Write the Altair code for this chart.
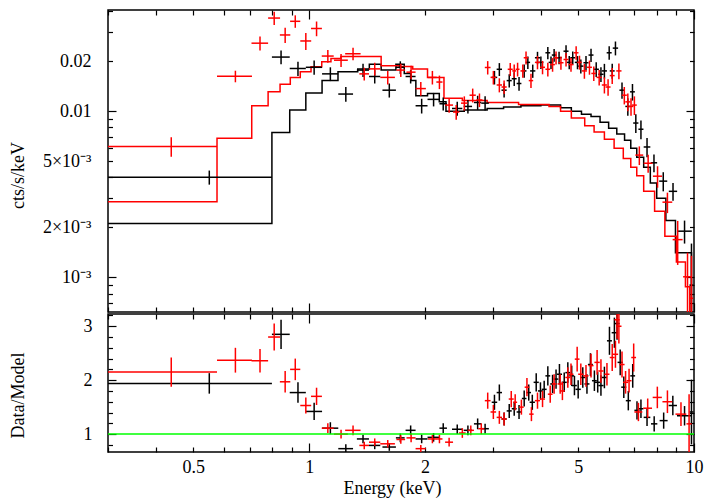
import altair as alt
import pandas as pd

FONT = "Liberation Serif"
FS = 18

X_DOMAIN = [0.3, 10.0]
TOP_Y_DOMAIN = [6.2e-4, 0.0407]
RATIO_Y_DOMAIN = [0.668, 3.227]

# ---------------- axis ticks and labels ----------------
X_LABEL_VALUES = [0.5, 1, 2, 5, 10]
X_LABEL_TEXT = ["0.5", "1", "2", "5", "10"]
X_MAJOR_TICKS = [1, 10]
X_MINOR_TICKS = [0.3, 0.4, 0.5, 0.6, 0.7, 0.8, 0.9, 2, 3, 4, 5, 6, 7, 8, 9]
TOP_Y_LABEL_VALUES = [0.001, 0.002, 0.005, 0.01, 0.02]
TOP_Y_LABEL_TEXT = ["10⁻³", "2×10⁻³", "5×10⁻³", "0.01", "0.02"]
TOP_Y_MAJOR_TICKS = [0.001, 0.01]
TOP_Y_MINOR_TICKS = [0.0007, 0.0008, 0.0009, 0.002, 0.003, 0.004, 0.005, 0.006,
                     0.007, 0.008, 0.009, 0.02, 0.03, 0.04]
RATIO_Y_LABEL_VALUES = [1, 2, 3]
RATIO_Y_LABEL_TEXT = ["1", "2", "3"]
RATIO_Y_MAJOR_TICKS = [1, 2, 3]
RATIO_Y_MINOR_TICKS = [0.8, 1.2, 1.4, 1.6, 1.8, 2.2, 2.4, 2.6, 2.8, 3.2]

# ---------------- folded models (bin edges, values) ----------------
BLACK_MODEL_EDGES = [0.30, 0.80, 0.89, 0.98, 1.08, 1.188, 1.337, 1.433, 1.538, 1.68,
                     1.766, 1.838, 1.893, 2.03, 2.178, 2.267, 2.529, 2.9, 3.2, 3.55,
                     4.0, 4.5, 4.8, 5.1, 5.4, 5.7, 6.0, 6.3, 6.6, 6.85,
                     7.1, 7.4, 7.7, 8.0, 8.45, 8.95, 9.85, 10.0]
BLACK_MODEL_VALUES = [0.00211, 0.00746, 0.0102, 0.0129, 0.01535, 0.0173, 0.0180, 0.0192, 0.0177, 0.0192,
                      0.0169, 0.0153, 0.0124, 0.0128, 0.0114, 0.0100, 0.0102, 0.0104, 0.0106, 0.0108,
                      0.0109, 0.0105, 0.0100, 0.0096, 0.0093, 0.0086, 0.0079, 0.0073, 0.0067, 0.0060,
                      0.0053, 0.0046, 0.0037, 0.0030, 0.0022, 0.00141, 0.0005]
RED_MODEL_EDGES = [0.30, 0.576, 0.709, 0.782, 0.840, 0.893, 0.948, 1.011, 1.078, 1.139,
                   1.209, 1.538, 1.715, 1.858, 2.03, 2.24, 2.5, 2.9, 3.5, 4.2,
                   4.5, 4.8, 5.2, 5.5, 5.85, 6.2, 6.55, 6.85, 7.1, 7.4,
                   7.9, 8.4, 9.0, 9.5, 9.75, 10.0]
RED_MODEL_VALUES = [0.00286, 0.00689, 0.0108, 0.01309, 0.01453, 0.01596, 0.0173, 0.01853, 0.0199, 0.0208,
                    0.0214, 0.0188, 0.0186, 0.0180, 0.0160, 0.0120, 0.0116, 0.0113, 0.0110, 0.0107,
                    0.0100, 0.0091, 0.0082, 0.0075, 0.0068, 0.0060, 0.0052, 0.0046, 0.0041, 0.0033,
                    0.0025, 0.00177, 0.00124, 0.00088, 0.0005]

# ---------------- spectrum data: energy, half width, rate, error ----------------
BLACK_E = [0.55, 0.845, 0.935, 1.03, 1.135, 1.245, 1.38, 1.48, 1.615, 1.725,
           1.835, 1.96, 2.105, 2.23, 2.425, 2.585, 2.74, 2.865, 3.03, 3.12,
           3.21, 3.31, 3.41, 3.51, 3.62, 3.70, 3.81, 3.92, 4.00, 4.17,
           4.25, 4.33, 4.46, 4.65, 4.74, 4.84, 4.98, 5.08, 5.24, 5.40,
           5.57, 5.73, 5.85, 6.02, 6.13, 6.25, 6.50, 6.73, 6.92, 7.06,
           7.28, 7.55, 7.87, 8.32, 8.82, 9.45, 9.85]
BLACK_DE = [0.25, 0.045, 0.045, 0.05, 0.055, 0.055, 0.05, 0.05, 0.065, 0.045,
            0.055, 0.07, 0.075, 0.05, 0.075, 0.065, 0.06, 0.065, 0.05, 0.05,
            0.05, 0.05, 0.05, 0.05, 0.05, 0.05, 0.06, 0.06, 0.06, 0.06,
            0.06, 0.06, 0.07, 0.07, 0.07, 0.07, 0.08, 0.08, 0.08, 0.08,
            0.09, 0.09, 0.09, 0.09, 0.09, 0.10, 0.10, 0.10, 0.10, 0.11,
            0.11, 0.15, 0.15, 0.20, 0.22, 0.42, 0.12]
BLACK_RATE = [0.00401, 0.0212, 0.0181, 0.0184, 0.0168, 0.0127, 0.0177, 0.0162, 0.0134, 0.0184,
              0.0162, 0.0108, 0.0118, 0.0111, 0.0104, 0.0107, 0.0113, 0.0112, 0.0160, 0.0179,
              0.0134, 0.0153, 0.0157, 0.0147, 0.0175, 0.0197, 0.0175, 0.0210, 0.0197, 0.0225,
              0.0197, 0.0218, 0.0210, 0.0230, 0.0197, 0.0210, 0.0197, 0.0187, 0.0196, 0.0218,
              0.0179, 0.0167, 0.0175, 0.0225, 0.0175, 0.0240, 0.0134, 0.0107, 0.0131, 0.0085,
              0.0078, 0.0061, 0.0049, 0.0038, 0.0033, 0.0019, 0.0009]
BLACK_RATE_ERR = [0.00039, 0.0020, 0.0018, 0.0018, 0.0016, 0.0013, 0.0016, 0.0015, 0.0013, 0.0016,
                  0.0015, 0.0011, 0.0011, 0.0010, 0.0010, 0.0010, 0.0011, 0.0011, 0.0015, 0.0016,
                  0.0013, 0.0014, 0.0015, 0.0014, 0.0016, 0.0017, 0.0016, 0.0018, 0.0017, 0.0019,
                  0.0017, 0.0019, 0.0018, 0.0020, 0.0018, 0.0019, 0.0018, 0.0018, 0.0019, 0.0020,
                  0.0018, 0.0017, 0.0018, 0.0021, 0.0018, 0.0023, 0.0015, 0.0013, 0.0015, 0.0011,
                  0.0010, 0.0008, 0.0006, 0.0005, 0.0004, 0.0003, 0.0007]

RED_E = [0.438, 0.643, 0.745, 0.811, 0.866, 0.920, 0.980, 1.045, 1.118, 1.21,
         1.30, 1.39, 1.48, 1.60, 1.73, 1.84, 1.95, 2.09, 2.18, 2.31,
         2.41, 2.53, 2.66, 2.77, 2.91, 3.01, 3.12, 3.21, 3.33, 3.41,
         3.48, 3.59, 3.66, 3.77, 3.92, 4.04, 4.17, 4.29, 4.38, 4.51,
         4.65, 4.79, 4.94, 5.04, 5.19, 5.35, 5.49, 5.67, 5.85, 5.98,
         6.13, 6.38, 6.59, 6.73, 6.86, 7.00, 7.21, 7.60, 8.04, 8.53,
         9.07, 9.62, 9.85]
RED_DE = [0.138, 0.067, 0.037, 0.029, 0.027, 0.028, 0.032, 0.034, 0.04, 0.05,
          0.06, 0.04, 0.05, 0.07, 0.045, 0.05, 0.06, 0.055, 0.04, 0.055,
          0.045, 0.05, 0.05, 0.05, 0.05, 0.05, 0.05, 0.05, 0.05, 0.04,
          0.04, 0.05, 0.05, 0.05, 0.06, 0.06, 0.06, 0.06, 0.06, 0.07,
          0.07, 0.07, 0.07, 0.07, 0.08, 0.08, 0.08, 0.09, 0.09, 0.09,
          0.09, 0.10, 0.10, 0.10, 0.10, 0.10, 0.17, 0.20, 0.22, 0.25,
          0.27, 0.25, 0.10]
RED_RATE = [0.00615, 0.01625, 0.0257, 0.0364, 0.0288, 0.0348, 0.0265, 0.0315, 0.0215, 0.0203,
            0.0222, 0.0168, 0.0180, 0.0160, 0.0177, 0.0172, 0.0137, 0.0160, 0.0150, 0.0109,
            0.0099, 0.0112, 0.0125, 0.0117, 0.01835, 0.0160, 0.0144, 0.0140, 0.0179, 0.0175,
            0.0179, 0.0175, 0.0210, 0.0153, 0.0197, 0.0184, 0.0179, 0.0191, 0.0210, 0.0196,
            0.0205, 0.0191, 0.0225, 0.0197, 0.0175, 0.0184, 0.0169, 0.0160, 0.0144, 0.0140,
            0.0164, 0.0175, 0.0125, 0.0114, 0.0107, 0.0109, 0.00545, 0.00487, 0.00407, 0.00284,
            0.00169, 0.00101, 0.00075]
RED_RATE_ERR = [0.00083, 0.0013, 0.0025, 0.0033, 0.0030, 0.0030, 0.0031, 0.0032, 0.0019, 0.0018,
                0.0019, 0.0015, 0.0016, 0.0015, 0.0016, 0.0016, 0.0013, 0.0015, 0.0014, 0.0011,
                0.0010, 0.0011, 0.0012, 0.0011, 0.0017, 0.0015, 0.0014, 0.0013, 0.0016, 0.0016,
                0.0017, 0.0016, 0.0019, 0.0015, 0.0018, 0.0017, 0.0017, 0.0018, 0.0019, 0.0018,
                0.0019, 0.0018, 0.0021, 0.0019, 0.0018, 0.0018, 0.0017, 0.0017, 0.0016, 0.0016,
                0.0018, 0.0019, 0.0015, 0.0014, 0.0013, 0.0014, 0.0007, 0.0006, 0.0006, 0.0004,
                0.0005, 0.0004, 0.0006]

# ---------------- data / model ratio ----------------
BLACK_RATIO_E = [0.55, 0.845, 0.935, 1.03, 1.135, 1.245, 1.38, 1.48, 1.615, 1.725,
                 1.835, 1.96, 2.105, 2.23, 2.425, 2.585, 2.74, 2.865, 3.03, 3.12,
                 3.21, 3.31, 3.41, 3.51, 3.62, 3.72, 3.80, 3.89, 3.99, 4.08,
                 4.17, 4.29, 4.38, 4.47, 4.60, 4.70, 4.81, 4.89, 5.00, 5.14,
                 5.27, 5.38, 5.51, 5.62, 5.73, 5.85, 6.03, 6.21, 6.31, 6.43,
                 6.57, 6.75, 6.93, 7.11, 7.28, 7.55, 7.88, 8.34, 8.81, 9.45, 9.85]
BLACK_RATIO_DE = [0.25, 0.045, 0.045, 0.05, 0.055, 0.055, 0.05, 0.05, 0.065, 0.045,
                  0.055, 0.07, 0.075, 0.05, 0.075, 0.065, 0.06, 0.065, 0.05, 0.05,
                  0.05, 0.05, 0.05, 0.05, 0.05, 0.05, 0.06, 0.06, 0.06, 0.06,
                  0.06, 0.06, 0.06, 0.07, 0.07, 0.07, 0.07, 0.07, 0.08, 0.08,
                  0.08, 0.08, 0.08, 0.09, 0.09, 0.09, 0.09, 0.10, 0.10, 0.10,
                  0.10, 0.10, 0.10, 0.11, 0.11, 0.15, 0.15, 0.20, 0.22, 0.42, 0.12]
BLACK_RATIO = [1.94, 2.85, 1.77, 1.42, 1.11, 0.73, 0.91, 0.79, 0.76, 0.93,
               1.07, 0.91, 0.94, 1.11, 1.09, 1.07, 1.19, 1.10, 1.59, 1.77,
               1.28, 1.43, 1.47, 1.41, 1.66, 1.77, 1.59, 1.96, 1.80, 1.83,
               2.08, 1.93, 2.02, 2.11, 1.96, 2.14, 2.08, 1.90, 1.83, 2.05,
               1.93, 2.29, 1.99, 1.96, 1.90, 2.05, 2.73, 2.88, 3.05, 2.33,
               1.87, 1.62, 2.08, 1.44, 1.47, 1.31, 1.19, 1.25, 1.53, 1.34, 1.41]
BLACK_RATIO_ERR = [0.19, 0.27, 0.19, 0.16, 0.11, 0.08, 0.08, 0.07, 0.07, 0.08,
                   0.09, 0.08, 0.08, 0.09, 0.09, 0.09, 0.10, 0.09, 0.14, 0.15,
                   0.12, 0.13, 0.13, 0.13, 0.15, 0.15, 0.14, 0.17, 0.16, 0.16,
                   0.18, 0.17, 0.18, 0.19, 0.18, 0.19, 0.19, 0.18, 0.17, 0.19,
                   0.18, 0.21, 0.19, 0.19, 0.19, 0.20, 0.26, 0.28, 0.30, 0.24,
                   0.20, 0.18, 0.22, 0.17, 0.17, 0.16, 0.14, 0.15, 0.18, 0.18, 0.60]

RED_RATIO_E = [0.438, 0.643, 0.745, 0.811, 0.866, 0.920, 0.980, 1.045, 1.118, 1.21,
               1.30, 1.39, 1.48, 1.60, 1.73, 1.84, 1.95, 2.09, 2.18, 2.31,
               2.50, 2.63, 2.80, 2.91, 3.01, 3.12, 3.21, 3.35, 3.43, 3.56,
               3.68, 3.78, 3.92, 4.04, 4.23, 4.33, 4.49, 4.55, 4.70, 4.79,
               4.97, 5.08, 5.24, 5.40, 5.60, 5.73, 5.94, 6.13, 6.25, 6.31,
               6.38, 6.50, 6.64, 6.78, 6.97, 7.17, 7.58, 8.03, 8.53, 9.25, 9.71]
RED_RATIO_DE = [0.138, 0.067, 0.037, 0.029, 0.027, 0.028, 0.032, 0.034, 0.04, 0.05,
                0.06, 0.04, 0.05, 0.07, 0.045, 0.05, 0.06, 0.055, 0.04, 0.055,
                0.05, 0.05, 0.05, 0.05, 0.05, 0.05, 0.05, 0.05, 0.04, 0.05,
                0.05, 0.05, 0.06, 0.06, 0.06, 0.06, 0.07, 0.07, 0.07, 0.07,
                0.07, 0.08, 0.08, 0.08, 0.09, 0.09, 0.09, 0.09, 0.10, 0.10,
                0.10, 0.10, 0.10, 0.10, 0.10, 0.17, 0.20, 0.22, 0.25, 0.30, 0.15]
RED_RATIO = [2.15, 2.37, 2.36, 2.80, 1.97, 2.20, 1.53, 1.70, 1.11, 1.00,
             1.07, 0.79, 0.85, 0.82, 0.90, 0.93, 0.73, 0.91, 0.91, 0.85,
             1.02, 1.07, 1.10, 1.62, 1.41, 1.31, 1.28, 1.65, 1.59, 1.50,
             1.87, 1.37, 1.62, 1.65, 1.74, 1.93, 1.93, 1.80, 2.05, 2.11,
             2.39, 2.11, 2.08, 2.27, 2.33, 2.17, 2.11, 2.42, 2.48, 3.12,
             3.00, 2.29, 1.96, 1.99, 2.42, 1.41, 1.48, 1.68, 1.60, 1.37, 1.19]
RED_RATIO_ERR = [0.27, 0.23, 0.22, 0.25, 0.20, 0.20, 0.15, 0.16, 0.09, 0.08,
                 0.09, 0.07, 0.07, 0.07, 0.08, 0.08, 0.07, 0.08, 0.08, 0.08,
                 0.09, 0.09, 0.10, 0.15, 0.13, 0.12, 0.12, 0.15, 0.15, 0.14,
                 0.17, 0.13, 0.15, 0.15, 0.16, 0.18, 0.18, 0.17, 0.19, 0.20,
                 0.23, 0.20, 0.20, 0.22, 0.23, 0.22, 0.21, 0.25, 0.25, 0.35,
                 0.32, 0.24, 0.21, 0.22, 0.26, 0.17, 0.18, 0.20, 0.21, 0.22, 0.55]

UNITY = [1.0, 1.0]

BLACK = "#000000"
RED = "#ff0000"
GREEN = "#00ff00"

PLOT_W = 586
TOP_H = 302
BOT_H = 138


def label_expr(values, texts):
    parts = []
    for i in range(len(values) - 1):
        mid = (values[i] * values[i + 1]) ** 0.5
        parts.append(f"datum.value < {mid} ? '{texts[i]}' : ")
    return "".join(parts) + f"'{texts[-1]}'"


def tick_axis(orient, values, size):
    return alt.Axis(orient=orient, values=values, tickSize=size, offset=-size,
                    ticks=True, labels=False, domain=False, grid=False,
                    tickColor="black", tickWidth=1.2, minExtent=0, maxExtent=size,
                    title=None)


def label_axis(orient, values, texts, pad, **extra):
    kw = dict(orient=orient, values=values, labelExpr=label_expr(values, texts),
              ticks=False, tickSize=0, domain=False, grid=False, labelPadding=pad,
              labelFont=FONT, labelFontSize=FS, labelColor="black",
              labelFlush=False, labelOverlap=False)
    kw.update(extra)
    return alt.Axis(**kw)


def title_kw(text, angle, x, y):
    return dict(title=text, titleFont=FONT, titleFontSize=FS, titleFontWeight="normal",
                titleColor="black", titleAngle=angle, titleAlign="center",
                titleBaseline="alphabetic", titleX=x, titleY=y)


def step_df(edges, values):
    return pd.DataFrame({"E": edges, "v": list(values) + [values[-1]]})


def cross_df(E, dE, v, dv):
    df = pd.DataFrame({"E": E, "dE": dE, "v": v, "dv": dv})
    df["E_lo"] = df["E"] - df["dE"]
    df["E_hi"] = df["E"] + df["dE"]
    df["v_lo"] = df["v"] - df["dv"]
    df["v_hi"] = df["v"] + df["dv"]
    return df


xs = alt.Scale(type="log", domain=X_DOMAIN, nice=False)
ys_top = alt.Scale(type="log", domain=TOP_Y_DOMAIN, nice=False)
ys_rat = alt.Scale(type="linear", domain=RATIO_Y_DOMAIN, nice=False, zero=False)


def X(field, axis):
    return alt.X(field, type="quantitative", scale=xs, axis=axis)


def Y(field, scale, axis):
    return alt.Y(field, type="quantitative", scale=scale, axis=axis)


def hbar(df, color, ys, xaxis, yaxis):
    return alt.Chart(df).mark_rule(color=color, strokeWidth=1.5, clip=True).encode(
        x=X("E_lo", xaxis), x2="E_hi", y=Y("v", ys, yaxis))


def vbar(df, color, ys, xaxis, yaxis):
    return alt.Chart(df).mark_rule(color=color, strokeWidth=1.5, clip=True).encode(
        x=X("E", xaxis), y=Y("v_lo", ys, yaxis), y2="v_hi")


# ---- axes
x_bmaj = tick_axis("bottom", X_MAJOR_TICKS, 9)
x_bmin = tick_axis("bottom", X_MINOR_TICKS, 5)
x_tmaj = tick_axis("top", X_MAJOR_TICKS, 9)
x_tmin = tick_axis("top", X_MINOR_TICKS, 5)
x_lab = label_axis("bottom", X_LABEL_VALUES, X_LABEL_TEXT, 6,
                   **title_kw("Energy (keV)", 0, 284, 41))

ty_lab = label_axis("left", TOP_Y_LABEL_VALUES, TOP_Y_LABEL_TEXT, 17,
                    **title_kw("cts/s/keV", 270, -85, 165))
ty_lmaj = tick_axis("left", TOP_Y_MAJOR_TICKS, 8)
ty_lmin = tick_axis("left", TOP_Y_MINOR_TICKS, 4.5)
ty_rmaj = tick_axis("right", TOP_Y_MAJOR_TICKS, 8)
ty_rmin = tick_axis("right", TOP_Y_MINOR_TICKS, 4.5)

ry_lab = label_axis("left", RATIO_Y_LABEL_VALUES, RATIO_Y_LABEL_TEXT, 16,
                    **title_kw("Data/Model", 270, -85, 81))
ry_lmaj = tick_axis("left", RATIO_Y_MAJOR_TICKS, 8)
ry_lmin = tick_axis("left", RATIO_Y_MINOR_TICKS, 4.5)
ry_rmaj = tick_axis("right", RATIO_Y_MAJOR_TICKS, 8)
ry_rmin = tick_axis("right", RATIO_Y_MINOR_TICKS, 4.5)

# ---- top panel
bm = step_df(BLACK_MODEL_EDGES, BLACK_MODEL_VALUES)
rm = step_df(RED_MODEL_EDGES, RED_MODEL_VALUES)
bd = cross_df(BLACK_E, BLACK_DE, BLACK_RATE, BLACK_RATE_ERR)
rd = cross_df(RED_E, RED_DE, RED_RATE, RED_RATE_ERR)

top_layers = [
    alt.Chart(bm).mark_line(interpolate="step-after", color=BLACK, strokeWidth=1.5, clip=True)
    .encode(x=X("E", x_bmaj), y=Y("v", ys_top, ty_lab)),
    alt.Chart(rm).mark_line(interpolate="step-after", color=RED, strokeWidth=1.5, clip=True)
    .encode(x=X("E", x_bmin), y=Y("v", ys_top, ty_lmaj)),
    hbar(bd, BLACK, ys_top, x_tmaj, ty_lmin),
    vbar(bd, BLACK, ys_top, x_tmin, ty_rmaj),
    hbar(rd, RED, ys_top, None, ty_rmin),
    vbar(rd, RED, ys_top, None, None),
]
top = alt.layer(*top_layers).resolve_axis(x="independent", y="independent").properties(
    width=PLOT_W, height=TOP_H)

# ---- ratio panel
br = cross_df(BLACK_RATIO_E, BLACK_RATIO_DE, BLACK_RATIO, BLACK_RATIO_ERR)
rr = cross_df(RED_RATIO_E, RED_RATIO_DE, RED_RATIO, RED_RATIO_ERR)
unity = pd.DataFrame({"E": X_DOMAIN, "v": UNITY})

bot_layers = [
    hbar(br, BLACK, ys_rat, x_lab, ry_lab),
    vbar(br, BLACK, ys_rat, x_bmaj, ry_lmaj),
    hbar(rr, RED, ys_rat, x_bmin, ry_lmin),
    vbar(rr, RED, ys_rat, x_tmaj, ry_rmaj),
    alt.Chart(unity).mark_line(color=GREEN, strokeWidth=1.5, clip=True)
    .encode(x=X("E", x_tmin), y=Y("v", ys_rat, ry_rmin)),
]
bottom = alt.layer(*bot_layers).resolve_axis(x="independent", y="independent").properties(
    width=PLOT_W, height=BOT_H)

chart = (
    alt.vconcat(top, bottom, spacing=-4)
    .properties(padding={"left": 0, "top": 0, "right": 0, "bottom": 0})
    .configure_view(stroke="black", strokeWidth=1.5)
)

chart.save("out.html", embed_options={"renderer": "svg", "actions": False})
